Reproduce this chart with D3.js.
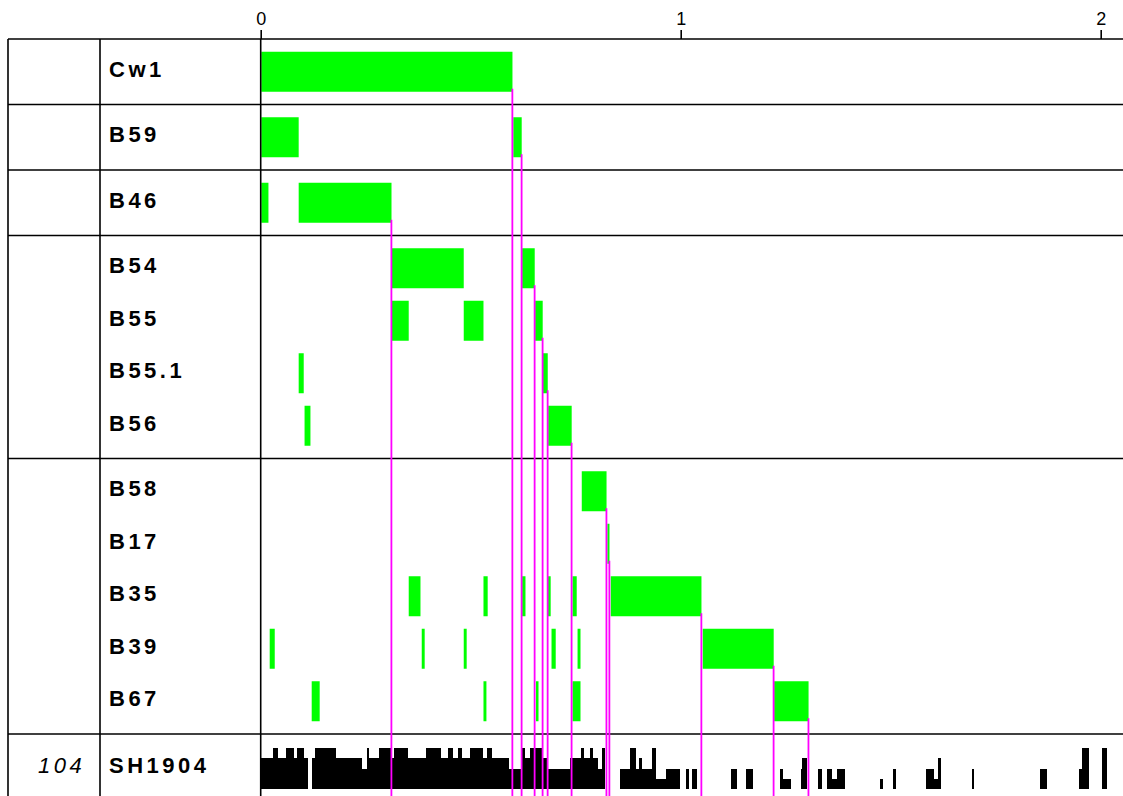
<!DOCTYPE html>
<html>
<head>
<meta charset="utf-8">
<script src="https://cdn.jsdelivr.net/npm/d3@7.9.0/dist/d3.min.js"></script>
<style>
  body { margin: 0; background: #fff; }
  text { font-family: "Liberation Sans", Arial, sans-serif; fill: #000; }
</style>
</head>
<body>
<svg id="chart" width="1123" height="796"></svg>
<script>
// --- DATA ---
const xTicks = [0, 1, 2];

// rows, grouped the way the table groups them
const groups = [
  ["Cw1"],
  ["B59"],
  ["B46"],
  ["B54", "B55", "B55.1", "B56"],
  ["B58", "B17", "B35", "B39", "B67"]
];

// [row, start, end]
const segments = [
  ["Cw1", 0.000, 0.598],
  ["B59", 0.000, 0.089], ["B59", 0.600, 0.620],
  ["B46", 0.000, 0.017], ["B46", 0.089, 0.310],
  ["B54", 0.310, 0.482], ["B54", 0.621, 0.651],
  ["B55", 0.310, 0.351], ["B55", 0.482, 0.529], ["B55", 0.652, 0.670],
  ["B55.1", 0.089, 0.101], ["B55.1", 0.670, 0.682],
  ["B56", 0.103, 0.117], ["B56", 0.683, 0.739],
  ["B58", 0.763, 0.822],
  ["B17", 0.824, 0.829],
  ["B35", 0.351, 0.379], ["B35", 0.529, 0.539], ["B35", 0.621, 0.629],
  ["B35", 0.682, 0.689], ["B35", 0.741, 0.751], ["B35", 0.832, 1.048],
  ["B39", 0.020, 0.032], ["B39", 0.382, 0.389], ["B39", 0.482, 0.489],
  ["B39", 0.691, 0.701], ["B39", 0.753, 0.760], ["B39", 1.051, 1.220],
  ["B67", 0.120, 0.139], ["B67", 0.529, 0.536], ["B67", 0.654, 0.660],
  ["B67", 0.741, 0.760], ["B67", 1.221, 1.303]
];

const histLabel = "SH1904";
const histNumber = "104";
// [start, end, count]
const histRuns = [
  [0.000, 0.029, 3], [0.029, 0.039, 4], [0.039, 0.058, 3], [0.058, 0.077, 4],
  [0.077, 0.086, 3], [0.086, 0.101, 4], [0.101, 0.110, 3],
  [0.120, 0.127, 3], [0.127, 0.179, 4], [0.179, 0.240, 3], [0.240, 0.251, 2],
  [0.251, 0.256, 4], [0.256, 0.280, 3], [0.280, 0.308, 4], [0.308, 0.317, 3],
  [0.317, 0.349, 4], [0.349, 0.391, 3], [0.391, 0.427, 4], [0.427, 0.444, 3],
  [0.444, 0.456, 4], [0.456, 0.468, 3], [0.468, 0.479, 4], [0.479, 0.498, 3],
  [0.498, 0.529, 4], [0.529, 0.538, 3], [0.538, 0.550, 4], [0.550, 0.590, 3],
  [0.590, 0.619, 2], [0.619, 0.629, 4], [0.629, 0.640, 3], [0.640, 0.669, 4],
  [0.669, 0.681, 3], [0.681, 0.736, 2], [0.736, 0.760, 3], [0.760, 0.768, 4],
  [0.768, 0.782, 3], [0.782, 0.790, 4], [0.790, 0.801, 3], [0.801, 0.810, 2],
  [0.810, 0.818, 4],
  [0.854, 0.879, 2], [0.879, 0.891, 4], [0.891, 0.899, 2], [0.899, 0.907, 3],
  [0.907, 0.931, 2], [0.931, 0.939, 4], [0.939, 0.963, 1], [0.963, 0.998, 2],
  [1.010, 1.018, 2], [1.026, 1.038, 2], [1.119, 1.132, 2], [1.153, 1.170, 2],
  [1.235, 1.243, 2], [1.243, 1.260, 1], [1.284, 1.288, 2], [1.288, 1.300, 3],
  [1.325, 1.335, 2], [1.346, 1.358, 2], [1.358, 1.370, 1], [1.370, 1.389, 2],
  [1.472, 1.481, 1], [1.505, 1.510, 2], [1.582, 1.601, 2], [1.601, 1.611, 1],
  [1.611, 1.619, 3], [1.691, 1.698, 2], [1.854, 1.870, 2], [1.947, 1.955, 2],
  [1.955, 1.971, 4], [2.002, 2.014, 4]
];

// --- LAYOUT ---
const W = 1123, H = 796;
const tableLeft = 8, labelLeft = 100, tableTop = 39;
const rowStep = 52.5, barH = 40, groupPad = 6.5;

const svg = d3.select("#chart");
const x = d3.scaleLinear().domain([0, 2]).range([260.7, 1100.7]);

// row centres and group borders
const rowY = new Map();
const borders = [tableTop];
let cursor = tableTop;
groups.forEach(g => {
  g.forEach((name, i) => rowY.set(name, cursor + groupPad + rowStep * i + rowStep / 2));
  cursor += groupPad * 2 + rowStep * g.length;
  borders.push(cursor);
});
const histTop = cursor;
const histBase = 789;
const hy = d3.scaleLinear().domain([0, 4]).range([histBase, 748]);

// --- GREEN BARS ---
svg.append("g").selectAll("rect")
  .data(segments)
  .join("rect")
  .attr("x", d => x(d[1]) + 0.6)
  .attr("width", d => Math.max(1, x(d[2]) - x(d[1])))
  .attr("y", d => rowY.get(d[0]) - barH / 2)
  .attr("height", barH)
  .attr("fill", "#00ff00");

// --- HISTOGRAM ---
svg.append("g")
  .attr("shape-rendering", "crispEdges")
  .selectAll("rect")
  .data(histRuns)
  .join("rect")
  .attr("x", d => Math.round(x(d[0]) + 0.6))
  .attr("width", d => Math.max(1, Math.round(x(d[1]) + 0.6) - Math.round(x(d[0]) + 0.6)))
  .attr("y", d => Math.round(hy(d[2])))
  .attr("height", d => histBase - Math.round(hy(d[2])))
  .attr("fill", "#000");

// --- TABLE LINES ---
const lines = svg.append("g").attr("stroke", "#000").attr("stroke-width", 1.6);
borders.forEach(b => {
  lines.append("line").attr("x1", tableLeft).attr("x2", W).attr("y1", b).attr("y2", b);
});
[tableLeft, labelLeft, x(0)].forEach(v => {
  lines.append("line").attr("x1", v).attr("x2", v).attr("y1", tableTop).attr("y2", H);
});

// --- MAGENTA LINES from each row's last bar down ---
const rowEnds = d3.rollups(segments, v => d3.max(v, d => d[2]), d => d[0]);
svg.append("g").selectAll("line")
  .data(rowEnds)
  .join("line")
  .attr("x1", d => x(d[1]) + 0.5)
  .attr("x2", d => x(d[1]) + 0.5)
  .attr("y1", d => rowY.get(d[0]) + barH / 2 - 3)
  .attr("y2", H)
  .attr("stroke", "#ff00ff")
  .attr("stroke-width", 1.8);

// --- AXIS ---
const axis = svg.append("g")
  .attr("transform", `translate(0,${tableTop})`)
  .call(d3.axisTop(x).tickValues(xTicks).tickSize(9).tickPadding(5).tickFormat(d3.format("d")));
axis.select(".domain").remove();
axis.selectAll(".tick line").attr("stroke", "#000").attr("stroke-width", 1.6);
axis.selectAll(".tick text")
  .attr("font-size", 18)
  .attr("font-family", "Liberation Sans, Arial, sans-serif")
  .attr("fill", "#000");

// --- ROW LABELS ---
const labelFont = 22, labelSpacing = 3.5;
svg.append("g").selectAll("text")
  .data(groups.flat())
  .join("text")
  .attr("x", 109)
  .attr("y", d => rowY.get(d) + 5)
  .attr("font-size", labelFont)
  .attr("font-weight", "bold")
  .attr("letter-spacing", labelSpacing)
  .text(d => d);

svg.append("text")
  .attr("x", 109)
  .attr("y", histTop + 39)
  .attr("font-size", labelFont)
  .attr("font-weight", "bold")
  .attr("letter-spacing", labelSpacing)
  .text(histLabel);

svg.append("text")
  .attr("x", 38)
  .attr("y", histTop + 39)
  .attr("font-size", labelFont)
  .attr("font-style", "italic")
  .attr("letter-spacing", labelSpacing)
  .text(histNumber);
</script>
</body>
</html>
